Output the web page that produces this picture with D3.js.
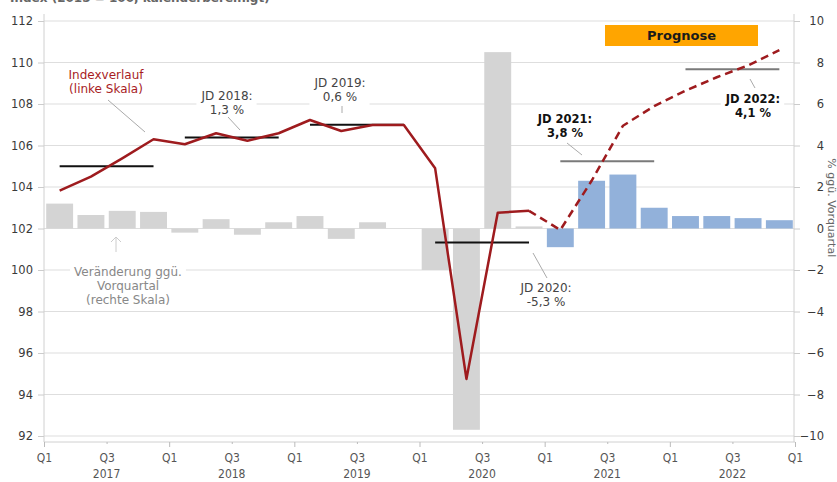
<!DOCTYPE html>
<html lang="de">
<head>
<meta charset="UTF-8">
<title>BIP Prognose</title>
<script src="https://cdn.jsdelivr.net/npm/d3@7"></script>
<style>
  body { margin: 0; background: #fff; }
  text { font-family: "DejaVu Sans", Verdana, sans-serif; }
</style>
</head>
<body>
<script>
// quarters 2017 Q1 .. 2022 Q4
var quarters = ["2017Q1","2017Q2","2017Q3","2017Q4","2018Q1","2018Q2","2018Q3","2018Q4",
                "2019Q1","2019Q2","2019Q3","2019Q4","2020Q1","2020Q2","2020Q3","2020Q4",
                "2021Q1","2021Q2","2021Q3","2021Q4","2022Q1","2022Q2","2022Q3","2022Q4"];
// index (left scale)
var indexValues = [103.82, 104.5, 105.38, 106.3, 106.06, 106.59, 106.23, 106.59,
                   107.23, 106.7, 106.99, 106.99, 104.9, 94.75, 102.76, 102.85,
                   101.93, 104.3, 106.95, 107.9, 108.64, 109.29, 109.86, 110.6];
// change vs previous quarter in % (right scale)
var changeValues = [1.2, 0.65, 0.85, 0.8, -0.2, 0.45, -0.3, 0.3,
                    0.6, -0.5, 0.3, 0.0, -2.0, -9.7, 8.5, 0.1,
                    -0.9, 2.3, 2.6, 1.0, 0.6, 0.6, 0.5, 0.4];
var forecastStart = 16; // 2021Q1
// annual averages (JD = Jahresdurchschnitt)
var years = ["2017","2018","2019","2020","2021","2022"];
var annualAvg = [105.0, 106.38, 107.0, 101.32, 105.24, 109.67];
var annualRate = [null, "1,3 %", "0,6 %", "-5,3 %", "3,8 %", "4,1 %"];

var leftTicks = [92, 94, 96, 98, 100, 102, 104, 106, 108, 110, 112];
var rightTicks = [-10, -8, -6, -4, -2, 0, 2, 4, 6, 8, 10];

var w = 837, h = 482;
var pLeft = 44, pRight = 795, pTop = 21, pBottom = 436, axisY = 442;

var svg = d3.select("body").append("svg")
    .attr("width", w)
    .attr("height", h);

var x = d3.scaleBand().domain(quarters).range([pLeft, pRight])
    .paddingInner(0.14).paddingOuter(0.07);
var xIdx = d3.scaleLinear().domain([0, quarters.length]).range([pLeft, pRight]);
var yL = d3.scaleLinear().domain([92, 112]).range([pBottom, pTop]);
var yR = d3.scaleLinear().domain([-10, 10]).range([pBottom, pTop]);
var xc = function (q) { return x(q) + x.bandwidth() / 2; };

// cut off title at the very top
svg.append("text").attr("x", 10).attr("y", 2)
    .attr("font-size", 12).attr("font-weight", "bold").attr("fill", "#666")
    .text("Index (2015 = 100, kalenderbereinigt)");

// gridlines
svg.append("g").selectAll("line").data(leftTicks).enter().append("line")
    .attr("x1", pLeft).attr("x2", pRight - 1)
    .attr("y1", function (d) { return yL(d); })
    .attr("y2", function (d) { return yL(d); })
    .attr("stroke", "#dedede").attr("stroke-width", 1.2);

// bars
svg.append("g").selectAll("rect").data(changeValues).enter().append("rect")
    .attr("x", function (d, i) { return x(quarters[i]); })
    .attr("width", x.bandwidth())
    .attr("y", function (d) { return yR(Math.max(0, d)); })
    .attr("height", function (d) { return Math.abs(yR(d) - yR(0)); })
    .attr("fill", function (d, i) { return i >= forecastStart ? "#92b1da" : "#d4d4d4"; });

// axis lines
svg.append("line").attr("x1", pLeft).attr("x2", pLeft).attr("y1", 14).attr("y2", axisY)
    .attr("stroke", "#d0d0d0");
svg.append("line").attr("x1", pRight - 1).attr("x2", pRight - 1).attr("y1", 14).attr("y2", axisY)
    .attr("stroke", "#d0d0d0");
svg.append("line").attr("x1", pLeft).attr("x2", pRight).attr("y1", axisY).attr("y2", axisY)
    .attr("stroke", "#d0d0d0");

// left axis
var gL = svg.append("g").attr("transform", "translate(" + pLeft + ",0)")
    .call(d3.axisLeft(yL).tickValues(leftTicks).tickSize(6).tickSizeOuter(0).tickPadding(5));
gL.select(".domain").remove();
gL.selectAll("line").attr("stroke", "#ccc");
gL.selectAll("text").attr("font-size", 11.5).attr("fill", "#3a3a3a")
    .style("font-family", "'DejaVu Sans', sans-serif");

// right axis
var gR = svg.append("g").attr("transform", "translate(" + (pRight - 1) + ",0)")
    .call(d3.axisRight(yR).tickValues(rightTicks).tickSize(6).tickSizeOuter(0));
gR.select(".domain").remove();
gR.selectAll("line").attr("stroke", "#ccc");
gR.selectAll("text").attr("font-size", 11.5).attr("fill", "#3a3a3a")
    .attr("text-anchor", "end").attr("x", 30)
    .style("font-family", "'DejaVu Sans', sans-serif");

svg.append("text")
    .attr("transform", "translate(828," + (yR(1)) + ") rotate(90)")
    .attr("text-anchor", "middle").attr("font-size", 11).attr("fill", "#666")
    .text("% ggü. Vorquartal");

// x axis
var halfTicks = d3.range(0, quarters.length + 1, 2);
var gX = svg.append("g").attr("transform", "translate(0," + axisY + ")")
    .call(d3.axisBottom(xIdx).tickValues(halfTicks)
        .tickFormat(function (i) { return i % 4 === 0 ? "Q1" : "Q3"; })
        .tickSize(5).tickPadding(6));
gX.select(".domain").remove();
gX.selectAll("line").attr("stroke", "#bbb")
    .attr("y2", function (i) { return i % 4 === 0 ? 5 : 2; });
gX.selectAll("text").attr("font-size", 12).attr("fill", "#555")
    .style("font-family", "'DejaVu Sans Condensed', 'DejaVu Sans', sans-serif");

svg.append("g").selectAll("text").data(years).enter().append("text")
    .attr("x", function (d, i) { return xIdx(i * 4 + 2); })
    .attr("y", 478)
    .attr("text-anchor", "middle").attr("font-size", 12).attr("fill", "#555")
    .style("font-family", "'DejaVu Sans Condensed', 'DejaVu Sans', sans-serif")
    .text(function (d) { return d; });

// annual average lines
svg.append("g").selectAll("line").data(annualAvg).enter().append("line")
    .attr("x1", function (d, i) { return xc(quarters[i * 4]); })
    .attr("x2", function (d, i) { return xc(quarters[i * 4 + 3]); })
    .attr("y1", function (d) { return yL(d); })
    .attr("y2", function (d) { return yL(d); })
    .attr("stroke", function (d, i) { return i >= 4 ? "#7a7a7a" : "#111"; })
    .attr("stroke-width", 2);

// index line: solid history, dashed forecast
var line = d3.line()
    .x(function (d) { return xc(d.q); })
    .y(function (d) { return yL(d.v); });
var pts = indexValues.map(function (v, i) { return { q: quarters[i], v: v }; });
svg.append("path").datum(pts.slice(0, forecastStart))
    .attr("d", line).attr("fill", "none")
    .attr("stroke", "#9e1b1e").attr("stroke-width", 2.5).attr("stroke-linejoin", "round");
svg.append("path").datum(pts.slice(forecastStart - 1))
    .attr("d", line).attr("fill", "none")
    .attr("stroke", "#9e1b1e").attr("stroke-width", 2.5)
    .attr("stroke-dasharray", "8,5");

// prognose box
svg.append("rect").attr("x", 605).attr("y", 25).attr("width", 153).attr("height", 21)
    .attr("fill", "#ffa500");
svg.append("text").attr("x", 681.5).attr("y", 40).attr("text-anchor", "middle")
    .attr("font-size", 13).attr("font-weight", "bold").attr("fill", "#1a1a1a")
    .text("Prognose");

// annotations
function note(lines, cx, cy, color, bold, bg) {
    var g = svg.append("g");
    var t = g.append("text").attr("text-anchor", "middle")
        .attr("font-size", bold ? 11.5 : 12).attr("fill", color)
        .attr("font-weight", bold ? "bold" : "normal");
    lines.forEach(function (s, i) {
        t.append("tspan").attr("x", cx).attr("y", cy + 4 + i * 14).text(s);
    });
    if (bg) {
        var b = t.node().getBBox();
        g.insert("rect", "text").attr("x", b.x - 4).attr("y", b.y - 2)
            .attr("width", b.width + 8).attr("height", b.height + 4).attr("fill", "#fff");
    }
}
function leader(x1, y1, x2, y2) {
    svg.append("line").attr("x1", x1).attr("y1", y1).attr("x2", x2).attr("y2", y2)
        .attr("stroke", "#aaa").attr("stroke-width", 1);
}

note(["Indexverlauf", "(linke Skala)"], 106, 75, "#a81c1f", false, false);
leader(108, 100, 145, 132);

note(["JD " + years[1] + ":", annualRate[1]], 227, 96, "#444", false, true);
leader(228, 117, 240, 130);

note(["JD " + years[2] + ":", annualRate[2]], 340, 83, "#444", false, true);
leader(342, 106, 342, 113);

note(["Veränderung ggü.", "Vorquartal", "(rechte Skala)"], 128, 272, "#888", false, true);
svg.append("line").attr("x1", 116).attr("y1", 252).attr("x2", 116).attr("y2", 237)
    .attr("stroke", "#ccc").attr("stroke-width", 1);
svg.append("path").attr("d", "M111,242 L116,237 L121,242")
    .attr("fill", "none").attr("stroke", "#ccc").attr("stroke-width", 1);

note(["JD " + years[3] + ":", annualRate[3]], 546, 288, "#444", false, false);
leader(533, 253, 547, 278);

note(["JD " + years[4] + ":", annualRate[4]], 565, 119, "#111", true, false);
leader(567, 143, 582, 155);

note(["JD " + years[5] + ":", annualRate[5]], 753, 99, "#111", true, true);
leader(750, 79, 755, 88);
</script>
</body>
</html>
